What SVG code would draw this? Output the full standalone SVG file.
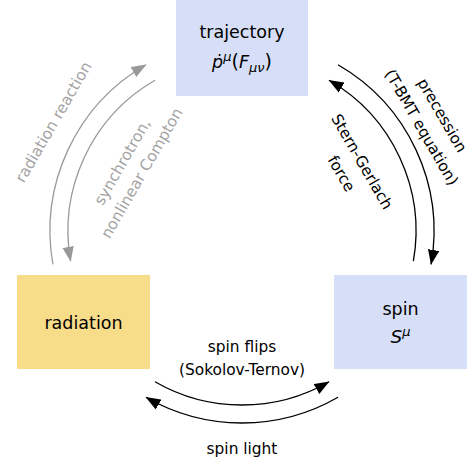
<svg xmlns="http://www.w3.org/2000/svg" width="473" height="468" viewBox="0 0 473 468">
  <style>
    text { font-family: "DejaVu Sans", "Liberation Sans", sans-serif; }
    .n { font-size: 17.5px; fill: #000; text-anchor: middle; }
    .l { font-size: 15.4px; fill: #000; text-anchor: middle; }
    .lg { font-size: 15.4px; fill: #a3a3a3; text-anchor: middle; }
    .i { font-style: italic; }
    .box-blue { fill: #d6dff7; }
    .box-yellow { fill: #f7dc8a; }
    .arc { fill: none; stroke: #000; stroke-width: 1.3; }
    .arc-g { fill: none; stroke: #999; stroke-width: 1.3; }
  </style>
  <defs>
    <marker id="ah" markerUnits="userSpaceOnUse" markerWidth="16" markerHeight="12" refX="14.5" refY="6" orient="auto">
      <path d="M0,0.3 L15,6 L0,11.7 z" fill="#000"/>
    </marker>
    <marker id="ahg" markerUnits="userSpaceOnUse" markerWidth="16" markerHeight="12" refX="14.5" refY="6" orient="auto">
      <path d="M0,0.3 L15,6 L0,11.7 z" fill="#999"/>
    </marker>
  </defs>

  <g id="trajectory">
    <rect class="box-blue" x="176" y="0" width="132" height="96"/>
    <text class="n" x="242" y="38">trajectory</text>
    <text class="n" x="242" y="68"><tspan class="i">ṗ</tspan><tspan class="i" font-size="13" dy="-7">μ</tspan><tspan dy="7" font-size="19">(</tspan><tspan class="i">F</tspan><tspan class="i" font-size="13" dy="4">μν</tspan><tspan dy="-4" font-size="19">)</tspan></text>
  </g>

  <g id="radiation">
    <rect class="box-yellow" x="17" y="275" width="133" height="94"/>
    <text class="n" x="83.5" y="329">radiation</text>
  </g>

  <g id="spin">
    <rect class="box-blue" x="334" y="275" width="133" height="94"/>
    <text class="n" x="400.5" y="315">spin</text>
    <text class="n" x="400.5" y="343"><tspan class="i" font-size="18.5">S</tspan><tspan class="i" font-size="13" dy="-7">μ</tspan></text>
  </g>

  <g id="connectors">
    <g id="edge-radiation-reaction">
      <path class="arc-g" d="M52.92,264.34 A192,192 0 0 1 146,64.72" marker-end="url(#ahg)"/>
      <g transform="translate(242,231) rotate(-60)">
        <text class="lg" x="0" y="-212.5">radiation reaction</text>
      </g>
    </g>
    <g id="edge-synchrotron">
      <path class="arc-g" d="M155,80.31 A174,174 0 0 0 70.64,261.21" marker-end="url(#ahg)"/>
      <g transform="translate(242,231) rotate(-60)">
        <text class="lg" x="0" y="-133">synchrotron,</text>
        <text class="lg" x="0" y="-110.5">nonlinear Compton</text>
      </g>
    </g>
    <g id="edge-precession">
      <path class="arc" d="M338,64.72 A192,192 0 0 1 431.08,264.34" marker-end="url(#ah)"/>
      <g transform="translate(242,231) rotate(60)">
        <text class="l" x="0" y="-226">precession</text>
        <text class="l" x="0" y="-202">(T-BMT equation)</text>
      </g>
    </g>
    <g id="edge-stern-gerlach">
      <path class="arc" d="M413.36,261.21 A174,174 0 0 0 329,80.31" marker-end="url(#ah)"/>
      <g transform="translate(242,231) rotate(60)">
        <text class="l" x="0" y="-133.3">Stern-Gerlach</text>
        <text class="l" x="0" y="-109.5">force</text>
      </g>
    </g>
    <g id="edge-spin-flips">
      <path class="arc" d="M155,381.69 A174,174 0 0 0 329,381.69" marker-end="url(#ah)"/>
      <text class="l" x="242" y="352">spin flips</text>
      <text class="l" x="242" y="375">(Sokolov-Ternov)</text>
    </g>
    <g id="edge-spin-light">
      <path class="arc" d="M338,397.28 A192,192 0 0 1 146,397.28" marker-end="url(#ah)"/>
      <text class="l" x="242" y="454">spin light</text>
    </g>
  </g>
</svg>
